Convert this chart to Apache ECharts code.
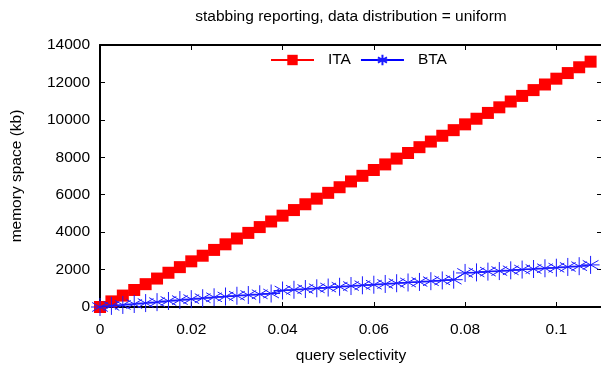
<!DOCTYPE html>
<html>
<head>
<meta charset="utf-8">
<script src="https://cdn.jsdelivr.net/npm/echarts@6/dist/echarts.min.js"></script>
<style>
html,body{margin:0;padding:0;background:#fff;}
#chart{width:601px;height:372px;}
</style>
</head>
<body>
<div id="chart"></div>
<script>
var titleText = 'stabbing reporting, data distribution = uniform';
var xName = 'query selectivity';
var yName = 'memory space (kb)';
var seriesNames = ['ITA', 'BTA'];

var selectivity = [0, 0.0025, 0.005, 0.0075, 0.01, 0.0125, 0.015, 0.0175, 0.02, 0.0225,
  0.025, 0.0275, 0.03, 0.0325, 0.035, 0.0375, 0.04, 0.0425, 0.045, 0.0475,
  0.05, 0.0525, 0.055, 0.0575, 0.06, 0.0625, 0.065, 0.0675, 0.07, 0.0725,
  0.075, 0.0775, 0.08, 0.0825, 0.085, 0.0875, 0.09, 0.0925, 0.095, 0.0975,
  0.1, 0.1025, 0.105, 0.1075];

var itaMemory = [0, 300, 610, 910, 1220, 1520, 1830, 2130, 2440, 2740,
  3050, 3350, 3660, 3960, 4270, 4570, 4880, 5180, 5490, 5790,
  6100, 6400, 6710, 7010, 7320, 7620, 7930, 8230, 8540, 8840,
  9150, 9450, 9760, 10060, 10370, 10670, 10980, 11280, 11590, 11890,
  12200, 12500, 12810, 13110];

var btaMemory = [0, 60, 110, 160, 210, 260, 320, 370, 420, 470,
  520, 560, 600, 640, 680, 720, 880, 920, 960, 1000,
  1040, 1080, 1120, 1160, 1190, 1230, 1270, 1310, 1340, 1380,
  1420, 1460, 1820, 1850, 1890, 1920, 1960, 2000, 2030, 2070,
  2100, 2140, 2180, 2250];

var xTicks = [0, 0.02, 0.04, 0.06, 0.08, 0.1];
var yTicks = [0, 2000, 4000, 6000, 8000, 10000, 12000, 14000];

function pairs(xs, ys) {
  return xs.map(function (x, i) { return [x, ys[i]]; });
}

var FONT = 'Liberation Sans, Arial, sans-serif';
var FS = 15.5;

var chart = echarts.init(document.getElementById('chart'), null, {renderer: 'canvas'});

var axisLineStyle = {color: '#000', width: 2};
var tickStyle = {color: '#000', width: 1};

function tickFormatter(ticks) {
  return function (v) {
    for (var i = 0; i < ticks.length; i++) {
      if (Math.abs(v - ticks[i]) < 1e-9 * Math.max(1, Math.abs(ticks[i]))) return String(ticks[i]);
    }
    return '';
  };
}

var option = {
  animation: false,
  backgroundColor: '#fff',
  textStyle: {fontFamily: FONT},
  graphic: [{
    type: 'text',
    x: 351,
    y: 17,
    style: {
      text: titleText,
      fontFamily: FONT,
      fontSize: FS,
      fill: '#000',
      align: 'center',
      verticalAlign: 'middle'
    }
  }],
  legend: {
    left: 270,
    top: 52,
    padding: 0,
    itemWidth: 43,
    itemHeight: 13,
    itemGap: 9,
    textStyle: {fontFamily: FONT, fontSize: FS, color: '#000', padding: [0, 0, 0, 9]},
    data: seriesNames
  },
  grid: {left: 100, right: -1, top: 45, bottom: 65, outerBoundsMode: 'none', containLabel: false},
  xAxis: [{
    type: 'value',
    position: 'bottom',
    min: 0,
    max: 0.11,
    interval: 0.02,
    name: xName,
    nameLocation: 'middle',
    nameGap: 41,
    nameTextStyle: {fontFamily: FONT, fontSize: FS, color: '#000'},
    axisLine: {show: true, onZero: false, lineStyle: axisLineStyle},
    axisTick: {show: true, inside: true, length: 5, lineStyle: tickStyle},
    axisLabel: {fontFamily: FONT, fontSize: FS, color: '#000', margin: 15, formatter: tickFormatter(xTicks)},
    splitLine: {show: false}
  }, {
    type: 'value',
    position: 'top',
    min: 0,
    max: 0.11,
    interval: 0.02,
    axisLine: {show: true, onZero: false, lineStyle: axisLineStyle},
    axisTick: {show: true, inside: true, length: 5, lineStyle: tickStyle},
    axisLabel: {show: false},
    splitLine: {show: false}
  }],
  yAxis: [{
    type: 'value',
    position: 'left',
    min: 0,
    max: 14000,
    interval: 2000,
    name: yName,
    nameLocation: 'middle',
    nameGap: 75,
    nameRotate: 90,
    nameTextStyle: {fontFamily: FONT, fontSize: FS, color: '#000'},
    axisLine: {show: true, onZero: false, lineStyle: axisLineStyle},
    axisTick: {show: true, inside: true, length: 5, lineStyle: tickStyle},
    axisLabel: {fontFamily: FONT, fontSize: FS, color: '#000', margin: 10, formatter: tickFormatter(yTicks)},
    splitLine: {show: false}
  }, {
    type: 'value',
    position: 'right',
    min: 0,
    max: 14000,
    interval: 2000,
    axisLine: {show: true, onZero: false, lineStyle: axisLineStyle},
    axisTick: {show: true, inside: true, length: 5, lineStyle: tickStyle},
    axisLabel: {show: false},
    splitLine: {show: false}
  }],
  series: [{
    name: seriesNames[0],
    type: 'line',
    xAxisIndex: 0,
    yAxisIndex: 0,
    data: pairs(selectivity, itaMemory),
    color: '#ff0000',
    symbol: 'rect',
    symbolSize: 12,
    showAllSymbol: true,
    lineStyle: {color: '#ff0000', width: 1},
    itemStyle: {color: '#ff0000', borderWidth: 0},
    z: 2
  }, {
    name: seriesNames[1],
    type: 'line',
    xAxisIndex: 0,
    yAxisIndex: 0,
    data: pairs(selectivity, btaMemory),
    color: '#0000ff',
    symbol: 'path://M8,0L8,16M0,8L16,8M1,4L15,12M1,12L15,4',
    symbolSize: 18,
    symbolKeepAspect: true,
    showAllSymbol: true,
    lineStyle: {color: '#0000ff', width: 1},
    itemStyle: {color: 'rgba(0,0,0,0)', borderColor: '#1a1aff', borderWidth: 1},
    z: 3
  }]
};
chart.setOption(option);
</script>
</body>
</html>
